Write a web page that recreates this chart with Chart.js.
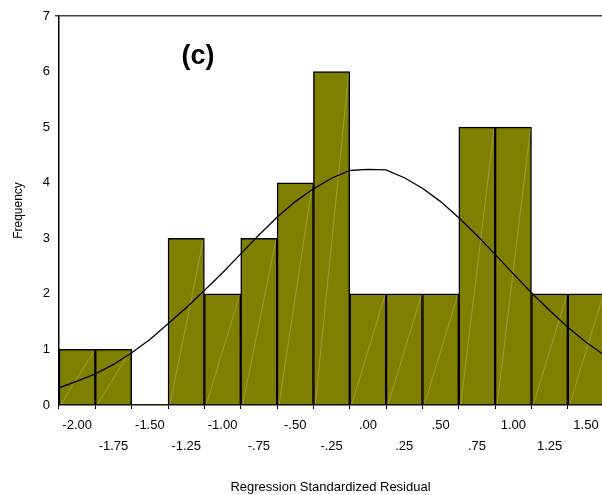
<!DOCTYPE html>
<html>
<head>
<meta charset="utf-8">
<script src="https://cdn.jsdelivr.net/npm/chart.js@4/dist/chart.umd.min.js"></script>
<style>
  html, body { margin: 0; padding: 0; background: #fff; overflow: hidden; }
  #wrap { width: 602px; height: 495px; }
</style>
</head>
<body>
<div id="wrap"><canvas id="histCanvas" width="602" height="495"></canvas></div>
<script>
// bin centres and counts
const binCenters = [-2.00, -1.75, -1.50, -1.25, -1.00, -0.75, -0.50, -0.25, 0.00, 0.25, 0.50, 0.75, 1.00, 1.25, 1.50];
const binCounts  = [1, 1, 0, 3, 2, 3, 4, 6, 2, 2, 2, 5, 5, 2, 2];

// normal curve overlay
const curveX = [-2.125, -2.0, -1.875, -1.75, -1.625, -1.5, -1.375, -1.25, -1.125, -1.0, -0.875, -0.75, -0.625, -0.5, -0.375, -0.25, -0.125,
                0.0, 0.125, 0.25, 0.375, 0.5, 0.625, 0.75, 0.875, 1.0, 1.125, 1.25, 1.375, 1.5, 1.625];
const curveY = [0.31, 0.43, 0.56, 0.73, 0.94, 1.18, 1.46, 1.75, 2.06, 2.38, 2.72, 3.06, 3.38, 3.66, 3.89, 4.08, 4.22,
                4.24, 4.23, 4.09, 3.90, 3.66, 3.37, 3.05, 2.71, 2.36, 2.02, 1.70, 1.40, 1.13, 0.90];

const tickValues = [-2.00, -1.75, -1.50, -1.25, -1.00, -0.75, -0.50, -0.25, 0.00, 0.25, 0.50, 0.75, 1.00, 1.25, 1.50];
const tickLabels = ['-2.00', '-1.75', '-1.50', '-1.25', '-1.00', '-.75', '-.50', '-.25', '.00', '.25', '.50', '.75', '1.00', '1.25', '1.50'];

const FONT = "'Liberation Sans', Arial, sans-serif";

// faint diagonal stroke inside each bar + panel tag
const barDecor = {
    id: 'barDecor',
    afterDatasetDraw(chart, args) {
        if (args.index !== 1) return;
        const ctx = chart.ctx;
        const area = chart.chartArea;
        ctx.save();
        ctx.beginPath();
        ctx.rect(area.left, area.top, area.right - area.left, area.bottom - area.top);
        ctx.clip();
        ctx.strokeStyle = 'rgba(255,255,255,0.22)';
        ctx.lineWidth = 1;
        args.meta.data.forEach(function (bar) {
            if (bar.base - bar.y < 1) return;
            const left = bar.x - bar.width / 2;
            const right = bar.x + bar.width / 2;
            ctx.beginPath();
            ctx.moveTo(left + 2, bar.base);
            ctx.lineTo(right - 1, bar.y + 1);
            ctx.stroke();
        });
        ctx.restore();
    },
    afterDraw(chart) {
        const ctx = chart.ctx;
        ctx.save();
        ctx.fillStyle = '#000';
        ctx.font = "bold 27px " + FONT;
        ctx.textAlign = 'center';
        ctx.textBaseline = 'middle';
        ctx.fillText('(c)', 198, 57);
        ctx.restore();
    }
};

const ctx = document.getElementById('histCanvas').getContext('2d');
const chart = new Chart(ctx, {
    data: {
        datasets: [{
            type: 'line',
            data: curveX.map((x, i) => ({ x: x, y: curveY[i] })),
            borderColor: '#000',
            borderWidth: 1.3,
            pointRadius: 0,
            tension: 0,
            fill: false
        }, {
            type: 'bar',
            data: binCenters.map((x, i) => ({ x: x, y: binCounts[i] })),
            backgroundColor: '#808000',
            borderColor: '#000',
            borderWidth: c => (c.raw && c.raw.y === 0 ? 0 : 1.5),
            barPercentage: 1,
            categoryPercentage: 1,
            grouped: false
        }]
    },
    options: {
        responsive: false,
        animation: false,
        layout: { padding: { left: 0, right: 0, top: 16, bottom: 0 } },
        plugins: {
            legend: { display: false },
            tooltip: { enabled: false }
        },
        scales: {
            x: {
                type: 'linear',
                min: -2.125,
                max: 1.61,
                offset: false,
                border: { display: true, color: '#000', width: 1.5 },
                grid: { drawOnChartArea: false, drawTicks: true, tickLength: 4, color: '#000' },
                afterBuildTicks: function (scale) {
                    scale.ticks = tickValues.map(v => ({ value: v }));
                },
                afterFit: function (scale) {
                    scale.height = 90;
                    scale.paddingLeft = 0;
                    scale.paddingRight = 0;
                },
                ticks: {
                    autoSkip: false,
                    maxRotation: 0,
                    padding: 6,
                    color: '#000',
                    font: { family: FONT, size: 13, lineHeight: 1.6 },
                    callback: function (value, index) {
                        return index % 2 === 0 ? [tickLabels[index], ''] : ['', tickLabels[index]];
                    }
                },
                title: {
                    display: true,
                    text: 'Regression Standardized Residual',
                    color: '#000',
                    font: { family: FONT, size: 13 },
                    padding: { top: 0, bottom: 0 }
                }
            },
            y: {
                min: 0,
                max: 7,
                border: { display: true, color: '#000', width: 1.5 },
                grid: {
                    drawOnChartArea: true,
                    drawTicks: true,
                    tickLength: 4,
                    color: ctx => ctx.tick && ctx.tick.value === 7 ? '#444' : 'rgba(0,0,0,0)',
                    lineWidth: 1.5
                },
                afterFit: function (scale) { scale.width = 59; },
                ticks: {
                    stepSize: 1,
                    padding: 5,
                    color: '#000',
                    font: { family: FONT, size: 13 }
                },
                title: {
                    display: true,
                    text: 'Frequency',
                    color: '#000',
                    font: { family: FONT, size: 12 },
                    padding: { top: 11, bottom: 0 }
                }
            }
        }
    },
    plugins: [barDecor]
});
</script>
</body>
</html>
